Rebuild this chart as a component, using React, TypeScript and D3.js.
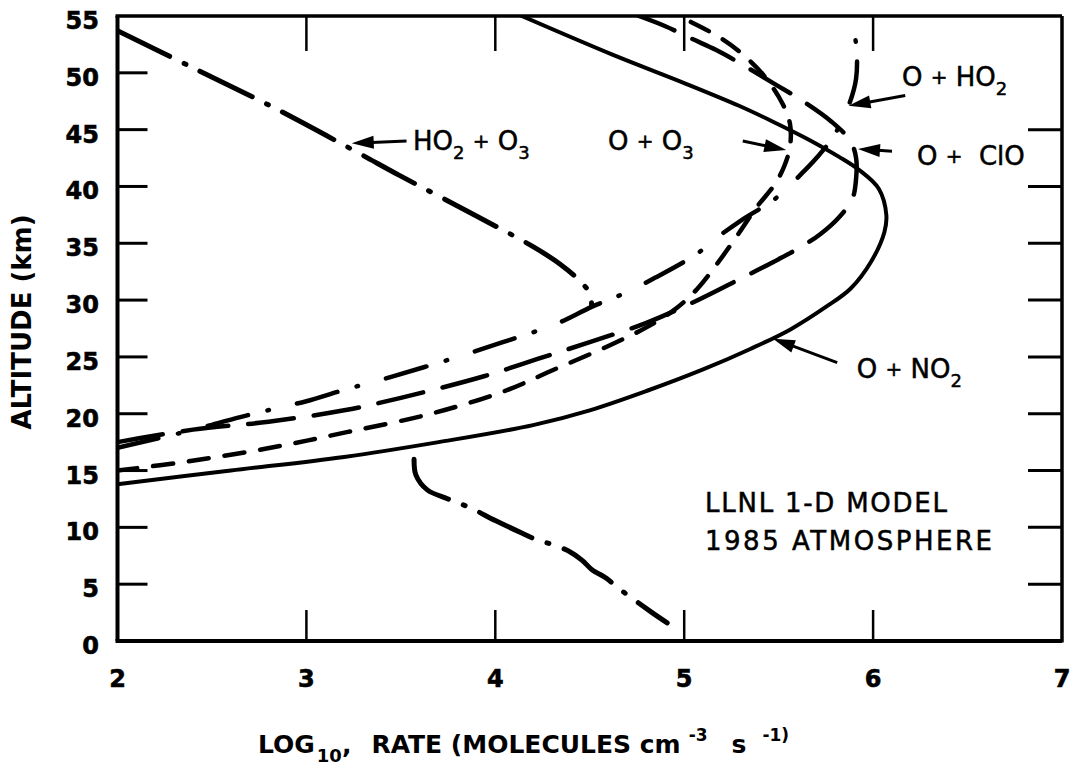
import * as d3 from "d3";

type P = [number, number];

// x: log10 rate, y: altitude (km)
const oNO2: P[] = [
  [2.0, 13.8], [2.6, 15.0], [3.2, 16.2], [3.7, 17.5], [4.2, 19.0], [4.5, 20.3],
  [4.8, 22.0], [5.1, 23.9], [5.35, 25.7], [5.56, 27.4], [5.75, 29.4],
  [5.88, 31.0], [5.99, 33.4], [6.06, 36.0], [6.07, 37.5], [6.03, 39.8], [5.93, 41.4],
  [5.82, 42.6], [5.65, 44.2], [5.47, 45.7], [5.29, 47.1], [5.0, 49.1], [4.62, 51.6], [4.14, 55.0],
];

const oO3: P[] = [
  [2.0, 15.0], [2.37, 15.8], [2.81, 17.0], [3.22, 18.4], [3.66, 20.0], [4.05, 22.0],
  [4.3, 23.8], [4.59, 25.9], [4.8, 27.6], [4.96, 29.3], [5.07, 31.0], [5.17, 33.1],
  [5.29, 35.9], [5.38, 38.1], [5.48, 40.2], [5.53, 41.8], [5.56, 43.5], [5.56, 45.5],
  [5.52, 47.3], [5.42, 49.8], [5.29, 51.9], [5.17, 53.3], [4.97, 55.0],
];

const oClO: P[] = [
  [2.0, 17.5], [2.4, 18.6], [2.8, 19.3], [3.2, 20.3], [3.5, 21.4],
  [3.94, 23.3], [4.22, 24.8], [4.5, 26.3], [4.8, 28.0], [5.06, 29.9], [5.3, 31.9],
  [5.5, 33.6], [5.63, 34.8], [5.72, 35.8], [5.82, 37.3], [5.89, 38.9], [5.91, 40.7],
  [5.91, 42.5], [5.88, 44.0], [5.78, 45.7], [5.62, 47.6], [5.48, 49.0], [5.31, 50.7],
  [5.17, 52.0], [5.04, 53.0], [4.9, 54.1], [4.76, 55.0],
];

const oHO2: P[] = [
  [2.0, 17.0], [2.38, 18.5], [2.65, 19.7], [2.87, 20.6], [3.0, 21.1], [3.2, 22.1],
  [3.44, 23.2], [3.8, 25.0], [4.04, 26.3], [4.24, 27.4], [4.35, 28.1], [4.51, 29.4],
  [4.67, 30.5], [4.85, 32.0], [5.07, 34.1], [5.15, 35.2], [5.3, 37.0], [5.48, 38.9],
  [5.62, 41.1], [5.7, 42.5], [5.79, 44.4], [5.87, 47.1], [5.91, 49.5], [5.91, 52.5],
  [5.88, 55.0],
];

const ho2O3Upper: P[] = [
  [2.0, 53.7], [2.38, 50.6], [2.82, 47.0], [3.27, 43.0], [3.49, 41.0], [3.9, 37.4],
  [4.2, 34.7], [4.34, 33.2], [4.44, 31.8], [4.5, 30.6], [4.51, 29.5],
];

const ho2O3Lower: P[] = [
  [3.57, 16.0], [3.58, 14.6], [3.64, 13.3], [3.75, 12.5], [3.87, 11.7], [4.0, 10.6],
  [4.14, 9.5], [4.22, 8.9], [4.3, 8.5], [4.39, 7.9], [4.46, 7.1], [4.51, 6.3],
  [4.59, 5.5], [4.64, 4.8], [4.83, 2.5], [4.91, 1.6],
];

const xTicks = [2, 3, 4, 5, 6, 7];
const yTicks = [0, 5, 10, 15, 20, 25, 30, 35, 40, 45, 50, 55];

// label pointers: tip / tail in data units
const arrows: { tip: P; tail: P }[] = [
  { tip: [3.24, 43.8], tail: [3.53, 44.0] },
  { tip: [5.54, 43.2], tail: [5.31, 44.0] },
  { tip: [5.87, 47.1], tail: [6.17, 48.0] },
  { tip: [5.92, 43.3], tail: [6.1, 43.1] },
  { tip: [5.47, 26.6], tail: [5.81, 24.5] },
];

type Part = [string, "n" | "s" | "p"];
const labels: { at: P; parts: Part[] }[] = [
  { at: [3.564, 43.2], parts: [["HO", "n"], ["2", "s"], [" ", "n"], ["+", "p"], [" O", "n"], ["3", "s"]] },
  { at: [4.597, 43.2], parts: [["O ", "n"], ["+", "p"], [" O", "n"], ["3", "s"]] },
  { at: [6.153, 48.8], parts: [["O ", "n"], ["+", "p"], [" HO", "n"], ["2", "s"]] },
  { at: [6.232, 41.89], parts: [["O ", "n"], ["+", "p"], ["  ClO", "n"]] },
  { at: [5.914, 23.14], parts: [["O ", "n"], ["+", "p"], [" NO", "n"], ["2", "s"]] },
];

const FONT = "DejaVu Sans";

function Chem({ x, y, parts }: { x: number; y: number; parts: Part[] }) {
  let cur = 0;
  return (
    <text x={x} y={y} fontFamily={FONT} fontSize={26} fill="#000" stroke="#000" strokeWidth={0.5} style={{ whiteSpace: "pre" }}>
      {parts.map(([t, k], i) => {
        const off = k === "s" ? 9 : k === "p" ? -2 : 0;
        const dy = off - cur;
        cur = off;
        return (
          <tspan key={i} dy={dy} fontSize={k === "s" ? 18 : k === "p" ? 20 : 26}>
            {t}
          </tspan>
        );
      })}
    </text>
  );
}

export default function App() {
  const x = d3.scaleLinear().domain([2, 7]).range([117.5, 1062]);
  const y = d3.scaleLinear().domain([0, 55]).range([641, 16]);
  const [x0, x1] = x.range();
  const [y0, y1] = y.range();

  const line = d3
    .line<P>()
    .x((d) => x(d[0]))
    .y((d) => y(d[1]))
    .curve(d3.curveCatmullRom.alpha(0.5));

  const curves = [
    { key: "ho2o3u", pts: ho2O3Upper, dash: "58 16 2 16", w: 5 },
    { key: "ho2o3l", pts: ho2O3Lower, dash: "58 16 2 16", w: 5 },
    { key: "ho2", pts: oHO2, dash: "42 20 1.5 29", w: 4.5 },
    { key: "o3", pts: oO3, dash: "20 16", w: 4.5 },
    { key: "clo", pts: oClO, dash: "46 20", w: 4.5 },
    { key: "no2", pts: oNO2, dash: undefined, w: 4 },
  ];

  return (
    <>
      <style>{`body{margin:0;background:#fff}`}</style>
      <svg width={1080} height={766} viewBox="0 0 1080 766" style={{ display: "block", background: "#fff" }}>
        <defs>
          <clipPath id="plot">
            <rect x={x0} y={y1} width={x1 - x0} height={y0 - y1} />
          </clipPath>
        </defs>

        {/* frame */}
        <line x1={x0} y1={y1} x2={x0} y2={y0} stroke="#000" strokeWidth={4} />
        <line x1={x0 - 2} y1={y0} x2={x1} y2={y0} stroke="#000" strokeWidth={4} />
        <line x1={x0 - 2} y1={y1} x2={x1} y2={y1} stroke="#000" strokeWidth={3.5} />
        <line x1={x1} y1={y1} x2={x1} y2={y0 + 1.5} stroke="#000" strokeWidth={3.5} />

        {/* ticks */}
        {yTicks.filter((t) => t > 0 && t < 55).map((t) => (
          <line key={"l" + t} x1={x0} x2={x0 + 30} y1={y(t)} y2={y(t)} stroke="#000" strokeWidth={3} />
        ))}
        {yTicks.filter((t) => t > 0 && t <= 45).map((t) => (
          <line key={"r" + t} x1={x1} x2={x1 - 34} y1={y(t)} y2={y(t)} stroke="#000" strokeWidth={3} />
        ))}
        {xTicks.filter((t) => t > 2 && t < 7).map((t) => (
          <g key={"x" + t}>
            <line x1={x(t)} x2={x(t)} y1={y1} y2={y1 + 35} stroke="#000" strokeWidth={2.5} />
            <line x1={x(t)} x2={x(t)} y1={y0} y2={y0 - 31} stroke="#000" strokeWidth={2.5} />
          </g>
        ))}

        {/* tick labels */}
        {yTicks.map((t) => (
          <text key={"yl" + t} x={99} y={y(t) + 13} textAnchor="end" fontFamily={FONT} fontWeight="bold" fontSize={24} stroke="#000" strokeWidth={0.6}>
            {t}
          </text>
        ))}
        {xTicks.map((t) => (
          <text key={"xl" + t} x={x(t)} y={687} textAnchor="middle" fontFamily={FONT} fontWeight="bold" fontSize={24} stroke="#000" strokeWidth={0.6}>
            {t}
          </text>
        ))}

        {/* axis titles */}
        <text transform="translate(31,322) rotate(-90)" textAnchor="middle" fontFamily={FONT} fontWeight="bold" fontSize={26}>
          ALTITUDE (km)
        </text>
        <text x={258} y={753} fontFamily={FONT} fontWeight="bold" fontSize={25}>
          LOG
          <tspan fontSize={18} dx={2} dy={9}>10</tspan>
          <tspan dy={-9}>,</tspan>
          <tspan dx={20}>RATE (MOLECULES cm</tspan>
          <tspan fontSize={17} dx={8} dy={-12}>-3</tspan>
          <tspan dx={24} dy={12}>s</tspan>
          <tspan fontSize={17} dx={16} dy={-12}>-1)</tspan>
        </text>

        {/* curves */}
        <g clipPath="url(#plot)" fill="none" stroke="#000" strokeLinecap="round" strokeLinejoin="round">
          {curves.map((c) => (
            <path key={c.key} d={line(c.pts) ?? ""} strokeWidth={c.w} strokeDasharray={c.dash} />
          ))}
        </g>

        {/* pointers */}
        {arrows.map((a, i) => {
          const tx = x(a.tip[0]), ty = y(a.tip[1]);
          const sx = x(a.tail[0]), sy = y(a.tail[1]);
          const len = Math.hypot(tx - sx, ty - sy);
          const ux = (tx - sx) / len, uy = (ty - sy) / len;
          const hl = 22, hw = 13;
          const bx = tx - ux * hl, by = ty - uy * hl;
          const pts = [
            [tx, ty],
            [bx - uy * hw / 2, by + ux * hw / 2],
            [bx + uy * hw / 2, by - ux * hw / 2],
          ];
          return (
            <g key={"a" + i}>
              <line x1={sx} y1={sy} x2={bx + ux * 2} y2={by + uy * 2} stroke="#000" strokeWidth={3} />
              <polygon points={pts.map((p) => p.join(",")).join(" ")} fill="#000" />
            </g>
          );
        })}

        {/* labels */}
        {labels.map((l, i) => (
          <Chem key={"c" + i} x={x(l.at[0])} y={y(l.at[1])} parts={l.parts} />
        ))}

        <text x={x(5.11)} y={y(11.35)} fontFamily={FONT} fontSize={26} stroke="#000" strokeWidth={0.5} textLength={242} lengthAdjust="spacing">
          LLNL 1-D MODEL
        </text>
        <text x={x(5.11)} y={y(8.0)} fontFamily={FONT} fontSize={26} stroke="#000" strokeWidth={0.5} textLength={287} lengthAdjust="spacing">
          1985 ATMOSPHERE
        </text>
      </svg>
    </>
  );
}
